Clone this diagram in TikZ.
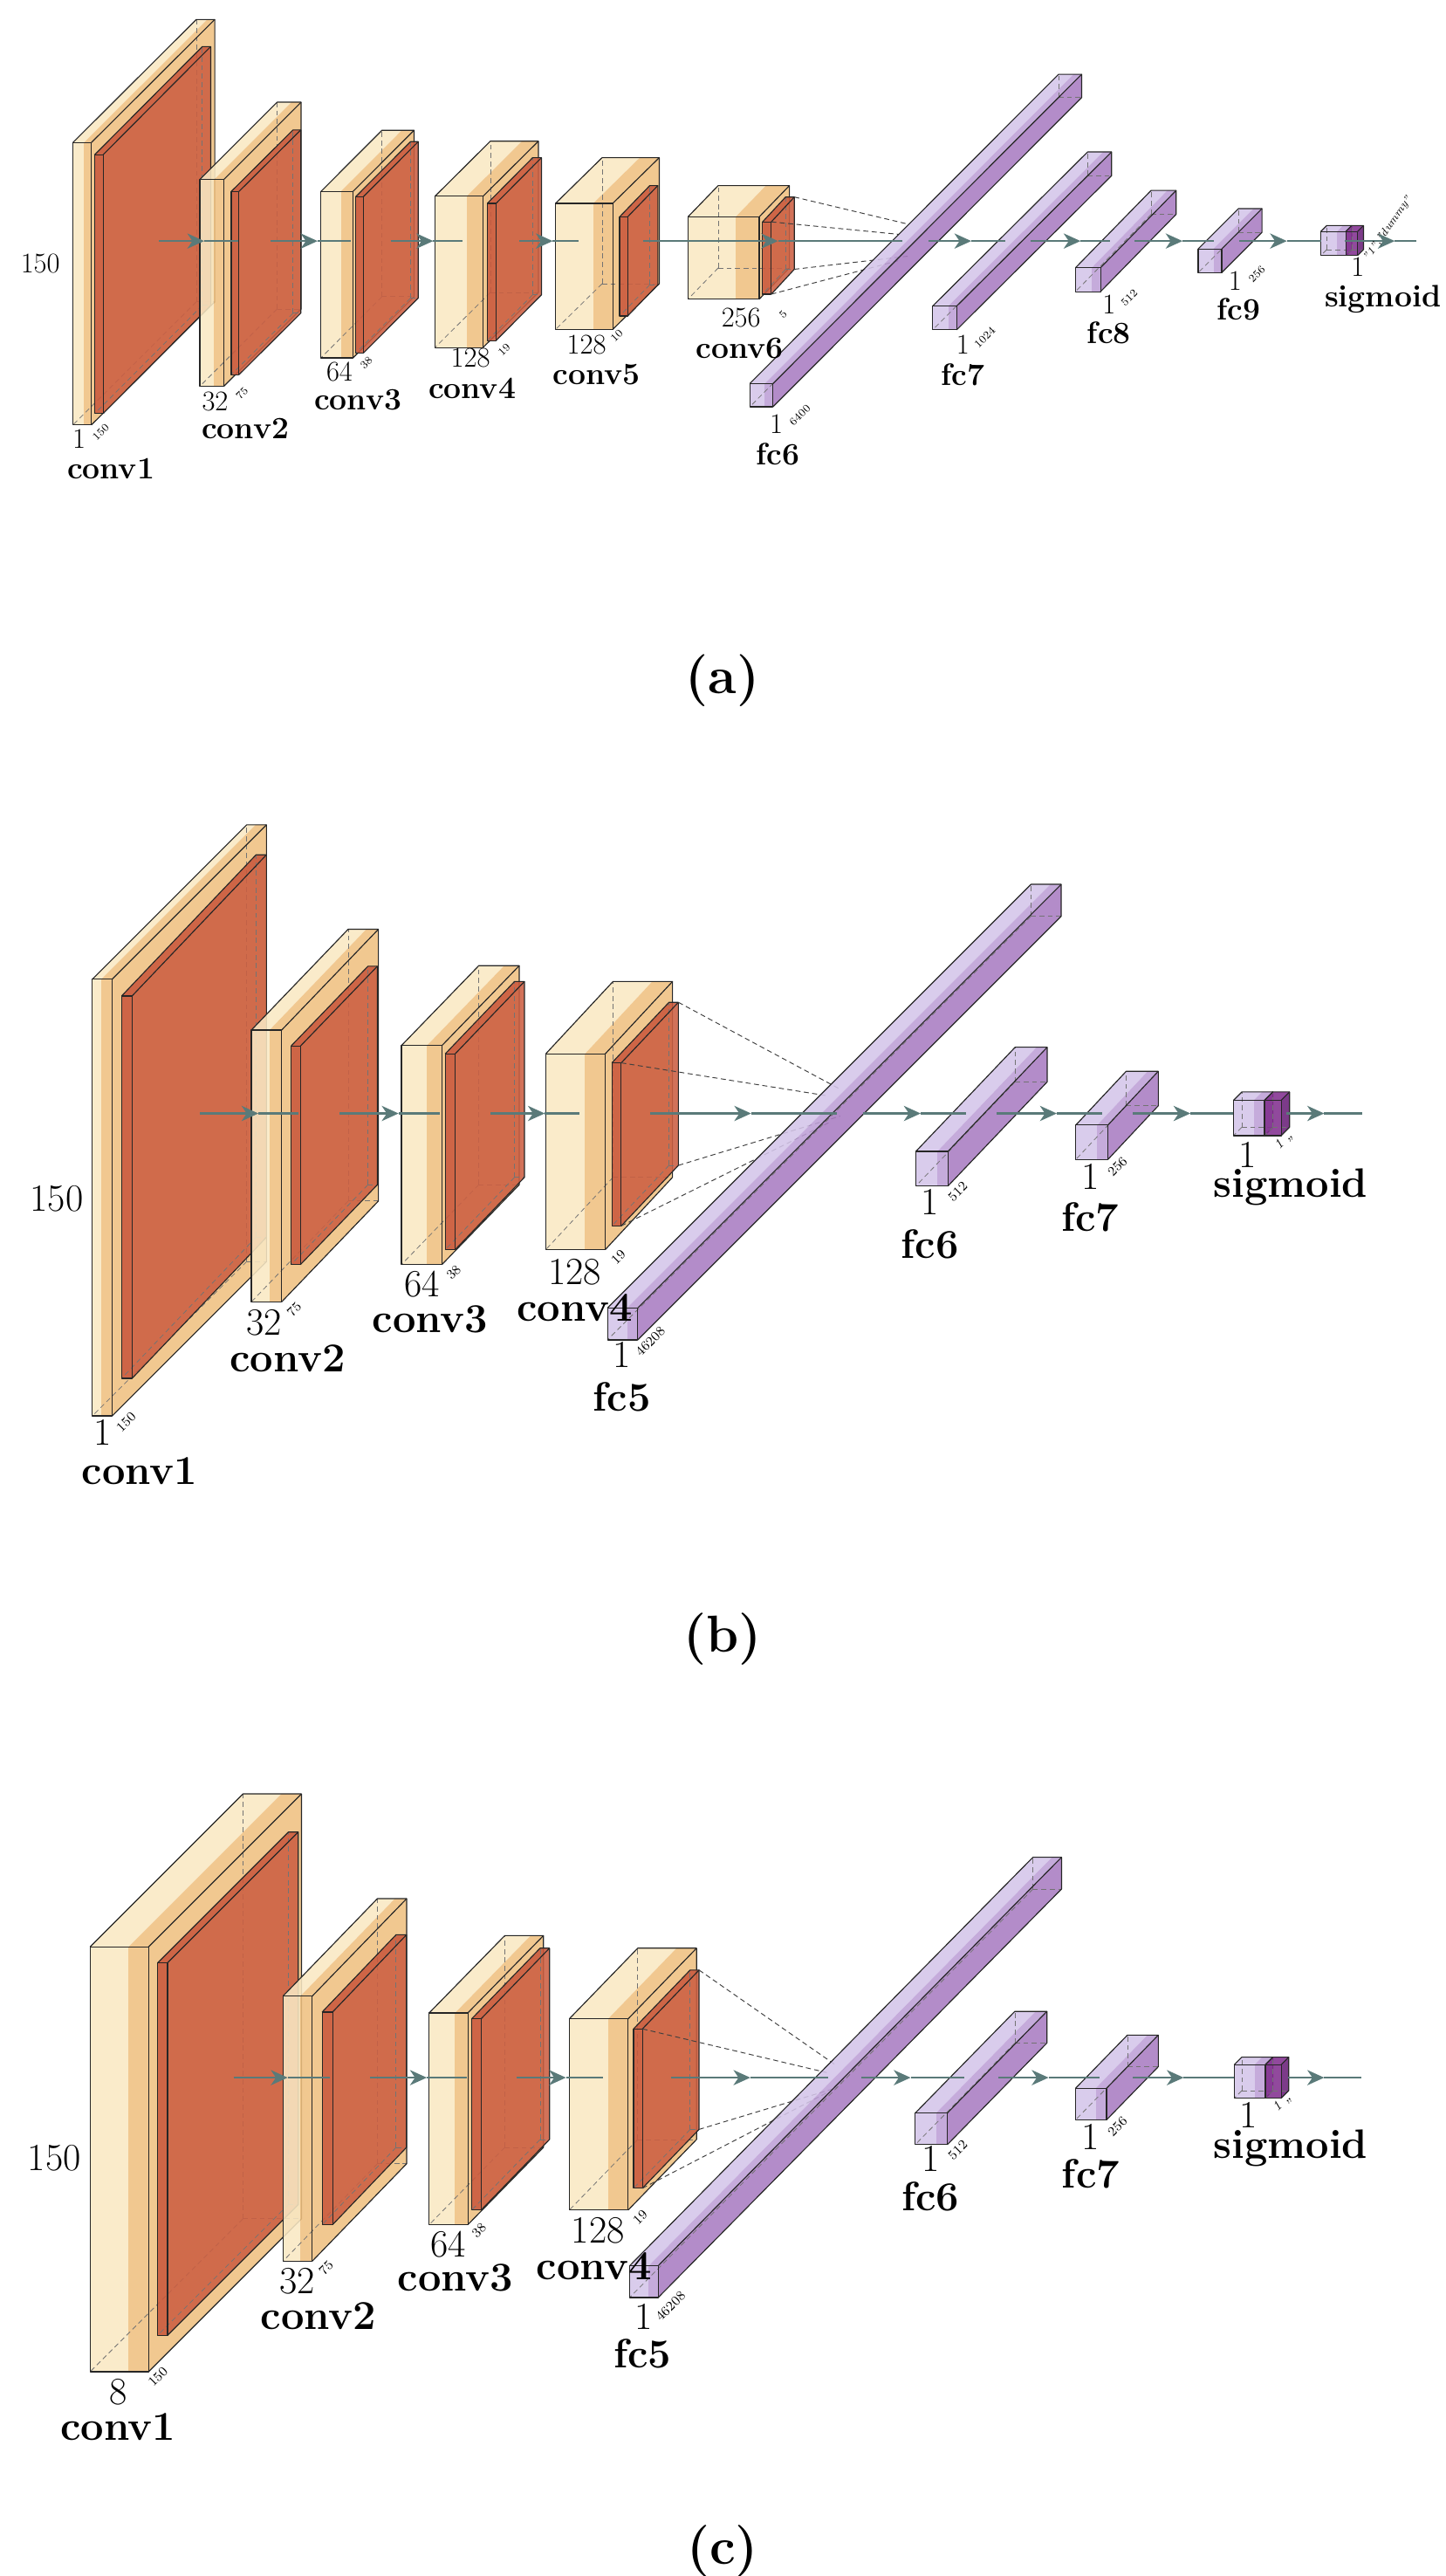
\documentclass[tikz,border=0pt]{standalone}
\usepackage{tikz}
\usetikzlibrary{arrows.meta}
\definecolor{cva}{HTML}{F9E8C3}\definecolor{cvb}{HTML}{EFC081}\definecolor{cvc}{HTML}{EFC081}
\definecolor{pla}{HTML}{C9583C}\definecolor{plb}{HTML}{C9583C}\definecolor{plc}{HTML}{CC5F42}
\definecolor{fca}{HTML}{D4C5E9}\definecolor{fcb}{HTML}{BD9FD6}\definecolor{fcc}{HTML}{A97CC1}
\definecolor{sga}{HTML}{82308F}\definecolor{sgb}{HTML}{82308F}\definecolor{sgc}{HTML}{6A2079}
\definecolor{conncol}{HTML}{5A7A79}
\tikzset{
 edge/.style={draw=black!85,line width=0.6bp,line join=round},
 hid/.style={draw=black!55,dashed,line width=0.4bp,dash pattern=on 3bp off 2bp},
 proj/.style={draw=black!75,dashed,line width=0.5bp,dash pattern=on 3bp off 2bp},
 conn/.style={draw=conncol,line width=1.3bp},
 tip/.style={conn,-{Stealth[length=10bp,width=9bp,inset=3bp]}},
 numA/.style={font=\fontsize{17}{19}\selectfont,inner sep=0pt},
 nameA/.style={font=\fontsize{18.5}{20}\selectfont\bfseries,inner sep=0pt},
 numB/.style={font=\fontsize{23}{25}\selectfont,inner sep=0pt},
 nameB/.style={font=\fontsize{24.5}{26}\selectfont\bfseries,inner sep=0pt},
 tinyA/.style={font=\fontsize{6.5}{7}\selectfont,rotate=45,inner sep=0pt},
 tinyB/.style={font=\fontsize{8}{9}\selectfont,rotate=45,inner sep=0pt},
 captxt/.style={font=\fontsize{31}{34}\selectfont\bfseries,inner sep=0pt}
}
% x y w h dx dy frac type
\newcommand\cub[8]{%
 \pgfmathsetmacro\xa{#1}\pgfmathsetmacro\ya{#2}%
 \pgfmathsetmacro\xm{#1+#3*#7}\pgfmathsetmacro\xb{#1+#3}%
 \pgfmathsetmacro\yb{#2+#4}\pgfmathsetmacro\ua{#5}\pgfmathsetmacro\ub{#6}%
 \begin{scope}[fill opacity=0.88]
 \fill[#8a] (\xa,\ya) rectangle (\xm,\yb);
 \fill[#8b] (\xm,\ya) rectangle (\xb,\yb);
 \fill[#8a] (\xa,\ya) -- (\xm,\ya) -- ({\xm+\ua},{\ya-\ub}) -- ({\xa+\ua},{\ya-\ub}) -- cycle;
 \fill[#8b] (\xm,\ya) -- (\xb,\ya) -- ({\xb+\ua},{\ya-\ub}) -- ({\xm+\ua},{\ya-\ub}) -- cycle;
 \fill[#8c] (\xb,\ya) -- ({\xb+\ua},{\ya-\ub}) -- ({\xb+\ua},{\yb-\ub}) -- (\xb,\yb) -- cycle;
 \end{scope}
 \draw[hid] ({\xa+\ua},{\yb-\ub}) -- (\xa,\yb);
 \draw[hid] ({\xa+\ua},{\yb-\ub}) -- ({\xa+\ua},{\ya-\ub});
 \draw[hid] ({\xa+\ua},{\yb-\ub}) -- ({\xb+\ua},{\yb-\ub});
 \draw[edge] (\xa,\ya) rectangle (\xb,\yb);
 \draw[edge] (\xa,\ya) -- ({\xa+\ua},{\ya-\ub}) -- ({\xb+\ua},{\ya-\ub}) -- ({\xb+\ua},{\yb-\ub}) -- (\xb,\yb);
 \draw[edge] (\xb,\ya) -- ({\xb+\ua},{\ya-\ub});
}
% x1 tip x2 y
\newcommand\conn[4]{%
 \coordinate (s) at (#1,#4); \coordinate (t) at (#2,#4); \coordinate (e) at (#3,#4);
 \draw[tip] (s) -- (t); \draw[conn] (t) -- (e);}
\begin{document}
\begin{tikzpicture}[x=1bp,y=-1bp]
\useasboundingbox (0,0) rectangle (860,1532.5);
%================ (a)
\cub{43.4}{84.8}{11}{168}{73.4}{73.2}{0.6}{cv}
\cub{56.4}{92}{5}{154}{64}{64.3}{1}{pl}
\cub{118.9}{106.8}{14.3}{123}{46}{46}{0.6}{cv}
\cub{137.6}{113.9}{4.6}{109}{36.8}{36.6}{1}{pl}
\cub{191}{113.9}{19.1}{99}{36.3}{36.4}{0.62}{cv}
\cub{211.7}{117}{4.6}{93}{32.6}{32.7}{1}{pl}
\cub{258.8}{116.8}{28.6}{90}{33}{32.8}{0.66}{cv}
\cub{290}{121}{5.2}{81.6}{27}{27.2}{1}{pl}
\cub{330.6}{121}{34}{75}{27.7}{27.2}{0.66}{cv}
\cub{368.7}{129}{4.8}{59}{18}{18.6}{1}{pl}
\cub{409.4}{129}{42.4}{49}{18}{18.6}{0.67}{cv}
\cub{453.8}{132}{5.2}{43}{13.7}{14.8}{1}{pl}
\coordinate (a6btr) at (472.7,117.2); \coordinate (a6ftr) at (459,132);
\coordinate (a6fbr) at (459,175); \coordinate (a6bbr) at (472.7,160.2);
\coordinate (af1) at (540.2,133.3); \coordinate (af2) at (534.8,139.4);
\coordinate (af3) at (534.8,155); \coordinate (af4) at (540.2,152.4);
\draw[proj] (a6btr)--(af1); \draw[proj] (a6ftr)--(af2); \draw[proj] (a6fbr)--(af3); \draw[proj] (a6bbr)--(af4);
\cub{446.2}{228.2}{13.8}{13.8}{183.7}{184}{0.65}{fc}
\cub{555}{182.1}{14.3}{14.1}{92.2}{91.7}{0.65}{fc}
\cub{640}{159.3}{14.9}{14.2}{45}{46}{0.65}{fc}
\cub{713}{148.1}{14}{14.1}{24}{24}{0.65}{fc}
\cub{786}{137.7}{14.9}{14.3}{3.5}{3.5}{0.65}{fc}
\cub{800.9}{137.7}{7}{14.3}{3.5}{3.5}{1}{sg}
\conn{94.6}{121.5}{141.9}{143.4}
\conn{161}{189}{208.7}{143.4}
\conn{232.4}{257.8}{275}{143.4}
\conn{309}{328.9}{344.4}{143.4}
\conn{382.5}{463}{537}{143.4}
\conn{552.4}{578}{598.3}{143.4}
\conn{613.2}{643}{660.5}{143.4}
\conn{675.3}{703.7}{722.6}{143.4}
\conn{737.5}{765.8}{786}{143.4}
\conn{800}{830}{843}{143.4}
\node[numA] (a150) at (24,157) {150};
\node[numA] (a1n) at (47,261) {1}; \node[tinyA] at (60,257) {150}; \node[nameA] (a1) at (66,279) {conv1};
\node[numA] at (128,239) {32}; \node[tinyA] at (144,234) {75}; \node[nameA] (a2) at (146,255) {conv2};
\node[numA] at (202,221) {64}; \node[tinyA] at (218,216) {38}; \node[nameA] (a3) at (213,238) {conv3};
\node[numA] at (280,213) {128}; \node[tinyA] at (300,208) {19}; \node[nameA] (a4) at (281,231) {conv4};
\node[numA] at (349,205) {128}; \node[tinyA] at (367,200) {10}; \node[nameA] (a5) at (355,223) {conv5};
\node[numA] at (441,189) {256}; \node[tinyA] at (466,187) {5}; \node[nameA] (a6) at (440,207) {conv6};
\node[numA] at (462,252) {1}; \node[tinyA] at (476,247) {6400}; \node[nameA] (a7) at (463,270) {fc6};
\node[numA] at (573,205) {1}; \node[tinyA] at (586,201) {1024}; \node[nameA] (a8) at (573,223) {fc7};
\node[numA] at (660,181) {1}; \node[tinyA] at (672,177) {512}; \node[nameA] (a9) at (660,198) {fc8};
\node[numA] at (735,167) {1}; \node[tinyA] at (748,163) {256}; \node[nameA] (a10) at (737,184) {fc9};
\node[numA] at (808,159) {1}; \node[tinyA,rotate=10] at (826,136) {\textit{''1'',''dummy''}}; \node[nameA] (a11) at (823,178) {sigmoid};
\node[captxt] (capa) at (430,405) {(a)};
%================ (b)
\cub{55}{582.5}{11.8}{259.8}{91.8}{91.8}{0.45}{cv}
\cub{72.4}{592.5}{6.2}{227.5}{80}{84}{1}{pl}
\cub{149.6}{612.8}{18}{161.7}{57.6}{60}{0.6}{cv}
\cub{173.2}{622.3}{5.6}{130}{45.8}{47.5}{1}{pl}
\cub{238.9}{622}{24.1}{130.3}{46}{47.5}{0.63}{cv}
\cub{265}{626.9}{5.9}{116.5}{41.2}{43}{1}{pl}
\cub{324.8}{626.9}{35.4}{116.5}{40}{43}{0.66}{cv}
\cub{364.1}{632.3}{5.6}{97}{34}{36}{1}{pl}
\coordinate (b4btr) at (403.7,596.3); \coordinate (b4ftr) at (369.7,632.3);
\coordinate (b4fbr) at (369.7,729.3); \coordinate (b4bbr) at (403.7,693.3);
\coordinate (bf1) at (500,648); \coordinate (bf2) at (493,652);
\coordinate (bf3) at (493,668); \coordinate (bf4) at (500,664);
\draw[proj] (b4btr)--(bf1); \draw[proj] (b4ftr)--(bf2); \draw[proj] (b4fbr)--(bf3); \draw[proj] (b4bbr)--(bf4);
\cub{361.5}{778.1}{18}{19}{252}{252}{0.65}{fc}
\cub{545}{685}{19.1}{20.6}{59.1}{62}{0.67}{fc}
\cub{640.2}{669.3}{19.1}{20.5}{30}{32}{0.67}{fc}
\cub{734}{654.6}{18.5}{21}{5}{5}{0.65}{fc}
\cub{752.5}{654.6}{9.9}{21}{5}{5}{1}{sg}
\conn{119}{153.8}{177.7}{662.4}
\conn{202.1}{237.2}{261.9}{662.4}
\conn{291.9}{324.2}{344.7}{662.4}
\conn{386.8}{447}{498}{662.4}
\conn{513.8}{547.9}{574.9}{662.4}
\conn{593.3}{628.9}{655.9}{662.4}
\conn{674.3}{708.4}{734}{662.4}
\conn{765.3}{788}{810.8}{662.4}
\node[numB] (b150) at (33.7,713) {150};
\node[numB] at (61,852) {1}; \node[tinyB] at (75,846) {150}; \node[nameB] (b1) at (83,875) {conv1};
\node[numB] at (157,787) {32}; \node[tinyB] at (175,779) {75}; \node[nameB] (b2) at (171,808) {conv2};
\node[numB] at (251,764) {64}; \node[tinyB] at (270,757) {38}; \node[nameB] (b3) at (256,785) {conv3};
\node[numB] at (342,757) {128}; \node[tinyB] at (368,748) {19}; \node[nameB] (b4) at (342,778) {conv4};
\node[numB] at (370,806) {1}; \node[tinyB] at (387,798) {46208}; \node[nameB] (b5) at (370,831) {fc5};
\node[numB] at (553.5,715) {1}; \node[tinyB] at (570,709) {512}; \node[nameB] (b6) at (553.5,740) {fc6};
\node[numB] at (648.7,700) {1}; \node[tinyB] at (665,694) {256}; \node[nameB] (b7) at (648.7,724) {fc7};
\node[numB] at (742.5,687) {1}; \node[tinyB] at (764,679) {\textit{1 ,,}}; \node[nameB] (b8) at (768,706) {sigmoid};
\node[captxt] (capb) at (430,975) {(b)};
%================ (c)
\cub{53.6}{1158.2}{34.8}{252.8}{91}{91}{0.66}{cv}
\cub{93.8}{1167.7}{5.9}{221.6}{77.8}{77.8}{1}{pl}
\cub{168.4}{1187.5}{17.4}{157.7}{56.2}{58}{0.6}{cv}
\cub{191.7}{1197}{6.2}{126.5}{44}{46}{1}{pl}
\cub{255.4}{1197.5}{23}{126}{45}{46}{0.67}{cv}
\cub{280.7}{1201}{5.6}{113.8}{40.7}{42}{1}{pl}
\cub{338.8}{1201}{35}{113.8}{40.7}{42}{0.66}{cv}
\cub{377}{1207}{5.3}{94.8}{33.7}{35}{1}{pl}
\coordinate (c4btr) at (416,1172); \coordinate (c4ftr) at (382.3,1207);
\coordinate (c4fbr) at (382.3,1301.8); \coordinate (c4bbr) at (416,1266.8);
\coordinate (cf1) at (498,1229); \coordinate (cf2) at (492,1233);
\coordinate (cf3) at (492,1245); \coordinate (cf4) at (498,1242);
\draw[proj] (c4btr)--(cf1); \draw[proj] (c4ftr)--(cf2); \draw[proj] (c4fbr)--(cf3); \draw[proj] (c4bbr)--(cf4);
\cub{374.7}{1347.9}{17}{18.9}{240}{243}{0.67}{fc}
\cub{544.6}{1257.1}{19.1}{18.8}{59.3}{60.5}{0.65}{fc}
\cub{640.1}{1242.3}{18.4}{18.8}{30.8}{31.6}{0.65}{fc}
\cub{734.5}{1228.3}{18.5}{19.9}{4.5}{4.5}{0.65}{fc}
\cub{753}{1228.3}{9.4}{19.9}{4.5}{4.5}{1}{sg}
\conn{139}{171.2}{196.5}{1236}
\conn{220.3}{254}{277.9}{1236}
\conn{307.4}{336.8}{358.7}{1236}
\conn{399.4}{446.5}{493}{1236}
\conn{512.8}{541.9}{573.8}{1236}
\conn{593.9}{624}{654.2}{1236}
\conn{674.3}{704.4}{734.5}{1236}
\conn{766.4}{788}{810}{1236}
\node[numB] (c150) at (32.3,1284) {150};
\node[numB] at (70.2,1423) {8}; \node[tinyB] at (94,1414) {150}; \node[nameB] (c1) at (70.2,1444) {conv1};
\node[numB] at (176.8,1357) {32}; \node[tinyB] at (194,1349) {75}; \node[nameB] (c2) at (189.5,1378) {conv2};
\node[numB] at (266.7,1335) {64}; \node[tinyB] at (285,1327) {38}; \node[nameB] (c3) at (270.9,1355) {conv3};
\node[numB] at (355.9,1327) {128}; \node[tinyB] at (381,1319) {19}; \node[nameB] (c4) at (353.7,1348) {conv4};
\node[numB] at (382.8,1378) {1}; \node[tinyB] at (399,1372) {46208}; \node[nameB] (c5) at (382.3,1400) {fc5};
\node[numB] at (553.7,1284) {1}; \node[tinyB] at (570,1279) {512}; \node[nameB] (c6) at (553.7,1307) {fc6};
\node[numB] at (649.1,1271) {1}; \node[tinyB] at (665,1265) {256}; \node[nameB] (c7) at (649.1,1293) {fc7};
\node[numB] at (742.9,1258) {1}; \node[tinyB] at (763,1251) {\textit{1 ,,}}; \node[nameB] (c8) at (768,1278) {sigmoid};
\node[captxt] (capc) at (430,1518) {(c)};
\end{tikzpicture}
\end{document}
